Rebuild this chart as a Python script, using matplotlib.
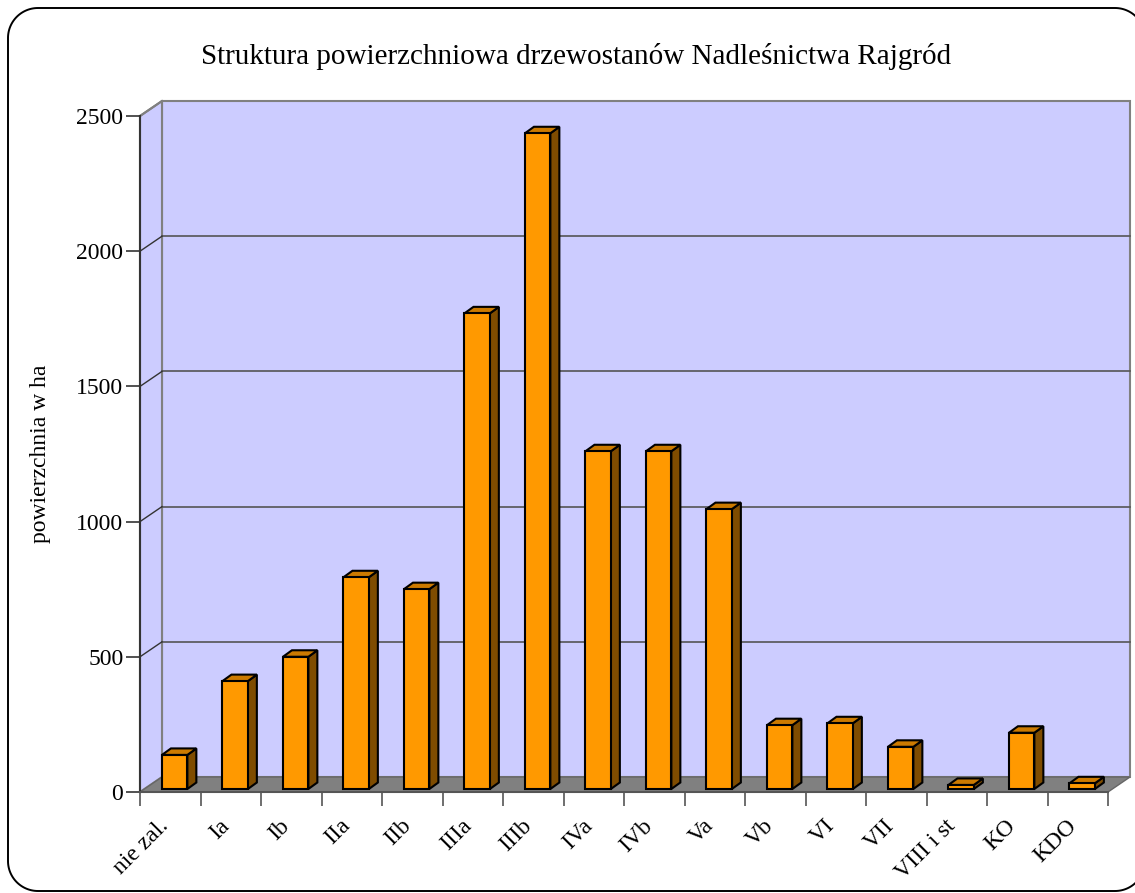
import matplotlib
matplotlib.use("Agg")
import matplotlib.pyplot as plt
import numpy as np
from matplotlib.patches import Polygon
from matplotlib.transforms import IdentityTransform, ScaledTranslation
from matplotlib.lines import Line2D

plt.rcParams['font.family'] = ['Liberation Serif', 'DejaVu Serif']

categories = ['nie zal.', 'Ia', 'Ib', 'IIa', 'IIb', 'IIIa', 'IIIb', 'IVa', 'IVb',
              'Va', 'Vb', 'VI', 'VII', 'VIII i st', 'KO', 'KDO']
values = [126, 399, 489, 783, 739, 1759, 2425, 1249, 1249,
          1035, 236, 243, 156, 15, 208, 21]
yticks = [0, 500, 1000, 1500, 2000, 2500]

W, H = 1135, 893
fig = plt.figure(figsize=(W / 100, H / 100), dpi=100)
fig.patch.set_facecolor('white')

# front plane of the 3d box, in pixels
x0, x1, yb, yt = 140, 1108, 792, 116
ax = fig.add_axes([x0 / W, (H - yb) / H, (x1 - x0) / W, (yb - yt) / H])
n = len(categories)
ax.set_xlim(0, n)
ax.set_ylim(0, 2500)
ax.patch.set_visible(False)
for s in ['top', 'right']:
    ax.spines[s].set_visible(False)
ax.spines['left'].set_color('#333333')
ax.spines['bottom'].set_color('#555555')
ax.spines['left'].set_linewidth(1.5)
ax.spines['bottom'].set_linewidth(1.5)
ax.spines['left'].set_zorder(6)
ax.spines['bottom'].set_zorder(6)

# depth of the box in data units
DX = 22 / ((x1 - x0) / n)
DY = 15 / ((yb - yt) / 2500)

wall = '#CCCCFF'
edge = '#808080'
# back wall
ax.add_patch(Polygon([(DX, DY), (n + DX, DY), (n + DX, 2500 + DY), (DX, 2500 + DY)],
                     closed=True, facecolor=wall, edgecolor=edge, lw=1.5,
                     clip_on=False, zorder=0))
# left wall
ax.add_patch(Polygon([(0, 0), (DX, DY), (DX, 2500 + DY), (0, 2500)],
                     closed=True, facecolor=wall, edgecolor=edge, lw=1.5,
                     clip_on=False, zorder=0.5))
# floor
ax.add_patch(Polygon([(0, 0), (n, 0), (n + DX, DY), (DX, DY)],
                     closed=True, facecolor='#808080', edgecolor='#666666', lw=1,
                     clip_on=False, zorder=1))
# gridlines
for v in yticks[1:-1]:
    ax.plot([DX, n + DX], [v + DY, v + DY], color='#555555', lw=1.2,
            clip_on=False, zorder=1)
    ax.plot([0, DX], [v, v + DY], color='#333333', lw=1,
            clip_on=False, zorder=1)
ax.plot([0, DX], [2500, 2500 + DY], color=edge, lw=1.5, clip_on=False, zorder=1)

# bars with 3d faces
d0 = 0.2
bw = 0.42
bdx, bdy = 9 / ((x1 - x0) / n), 6.5 / ((yb - yt) / 2500)
xs = np.arange(n) + 0.5 + d0 * DX
base = d0 * DY
ax.bar(xs, values, width=bw, bottom=base, color='#FF9900', edgecolor='black',
       lw=1.5, zorder=4, clip_on=False)
for x, v in zip(xs, values):
    l, r = x - bw / 2, x + bw / 2
    top = base + v
    ax.add_patch(Polygon([(r, base), (r + bdx, base + bdy), (r + bdx, top + bdy), (r, top)],
                         closed=True, facecolor='#7F4C00', edgecolor='black', lw=1.5,
                         zorder=3, clip_on=False))
    ax.add_patch(Polygon([(l, top), (r, top), (r + bdx, top + bdy), (l + bdx, top + bdy)],
                         closed=True, facecolor='#CC7A00', edgecolor='black', lw=1.5,
                         zorder=3, clip_on=False))

ax.set_yticks(yticks)
ax.tick_params(axis='y', length=10, width=1.2, color='#333333', labelsize=17, pad=2)
ax.set_xticks(np.arange(n + 1))
ax.set_xticklabels([])
ax.set_xticks(np.arange(n) + 0.5, minor=True)
ax.set_xticklabels(categories, minor=True, rotation=45, ha='right', va='top',
                   rotation_mode='anchor', fontsize=17)
ax.tick_params(axis='x', which='major', length=10, width=1.2, color='#555555')
ax.tick_params(axis='x', which='minor', length=0, pad=14)
shift = ScaledTranslation(-12 / 100, -4 / 100, fig.dpi_scale_trans)
for lab in ax.get_xticklabels(minor=True):
    lab.set_transform(lab.get_transform() + shift)
ax.set_ylabel('powierzchnia w ha', fontsize=17, labelpad=18)

fig.text(576 / W, 1 - 57 / H, 'Struktura powierzchniowa drzewostanów Nadleśnictwa Rajgród',
         ha='center', va='center', fontsize=21)

# rounded chart frame as a polyline in pixel coords (y up)
fl, fr, fb, ft, rad = 8, 1145, H - 891, H - 8, 30
pts = []
for cx, cy, a0 in [(fr - rad, ft - rad, 0), (fl + rad, ft - rad, 90),
                   (fl + rad, fb + rad, 180), (fr - rad, fb + rad, 270)]:
    t = np.radians(np.linspace(a0, a0 + 90, 30))
    pts += list(zip(cx + rad * np.cos(t), cy + rad * np.sin(t)))
pts.append(pts[0])
px, py = zip(*pts)
fig.lines.append(Line2D(px, py, transform=IdentityTransform(), color='black', lw=1.4))

fig.savefig('out.png', dpi=100)
